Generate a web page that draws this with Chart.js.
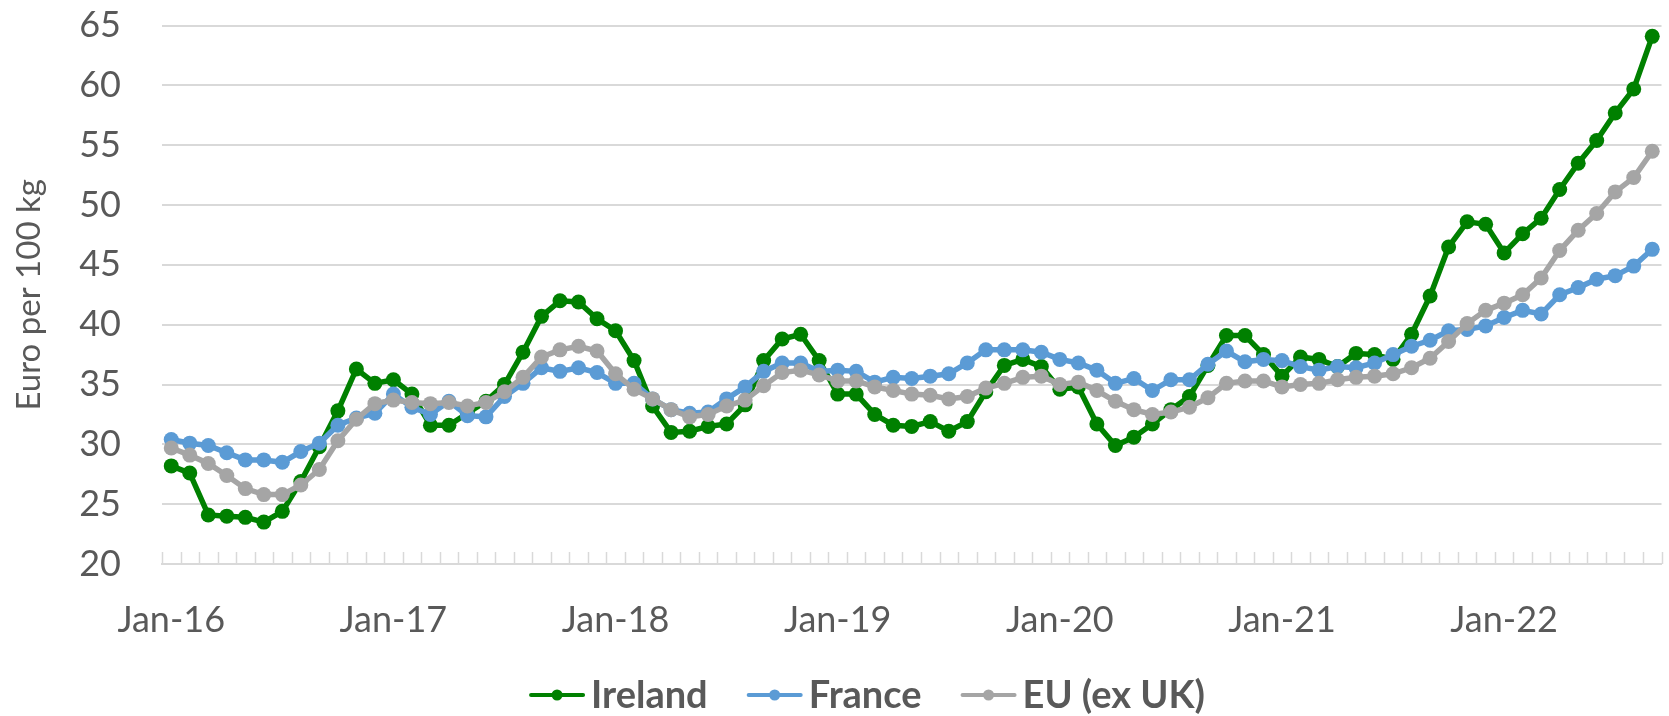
<!DOCTYPE html>
<html>
<head>
<meta charset="utf-8">
<script src="https://cdn.jsdelivr.net/npm/chart.js@4"></script>
<style>
  html, body { margin: 0; padding: 0; background: #fff; }
  #wrap { width: 1669px; height: 716px; }
</style>
</head>
<body>
<div id="wrap"><canvas id="milk-chart" width="1669" height="716"></canvas></div>
<script>
// monthly, Jan-16 .. Sep-22
var monthNames = ['Jan', 'Feb', 'Mar', 'Apr', 'May', 'Jun', 'Jul', 'Aug', 'Sep', 'Oct', 'Nov', 'Dec'];
var months = [];
for (var yr = 16; yr <= 22; yr++) {
    for (var m = 0; m < 12; m++) {
        if (yr === 22 && m > 8) break;
        months.push(monthNames[m] + '-' + yr);
    }
}

var ireland = [28.2, 27.6, 24.1, 24.0, 23.9, 23.5, 24.4, 26.9, 29.8, 32.8,
    36.3, 35.1, 35.4, 34.2, 31.6, 31.6, 32.6, 33.6, 35.0, 37.7,
    40.7, 42.0, 41.9, 40.5, 39.5, 37.0, 33.2, 31.0, 31.1, 31.5,
    31.7, 33.3, 37.0, 38.8, 39.2, 37.0, 34.2, 34.2, 32.5, 31.6,
    31.5, 31.9, 31.1, 31.9, 34.4, 36.6, 37.1, 36.5, 34.6, 34.8,
    31.7, 29.9, 30.6, 31.7, 32.9, 34.0, 36.6, 39.1, 39.1, 37.5,
    35.7, 37.3, 37.1, 36.5, 37.6, 37.5, 37.1, 39.2, 42.4, 46.5,
    48.6, 48.4, 46.0, 47.6, 48.9, 51.3, 53.5, 55.4, 57.7, 59.7, 64.1];

var france = [30.4, 30.1, 29.9, 29.3, 28.7, 28.7, 28.5, 29.4, 30.1, 31.6,
    32.2, 32.6, 34.2, 33.1, 32.5, 33.6, 32.4, 32.3, 34.0, 35.1,
    36.4, 36.1, 36.4, 36.0, 35.1, 35.1, 33.8, 32.9, 32.6, 32.7,
    33.8, 34.8, 36.1, 36.8, 36.8, 36.1, 36.2, 36.1, 35.2, 35.6,
    35.5, 35.7, 35.9, 36.8, 37.9, 37.9, 37.9, 37.7, 37.1, 36.8,
    36.2, 35.1, 35.5, 34.5, 35.4, 35.4, 36.7, 37.8, 36.9, 37.1,
    37.0, 36.5, 36.2, 36.5, 36.4, 36.8, 37.5, 38.2, 38.7, 39.5,
    39.6, 39.9, 40.6, 41.2, 40.9, 42.5, 43.1, 43.8, 44.1, 44.9, 46.3];

var euExUk = [29.7, 29.1, 28.4, 27.4, 26.3, 25.8, 25.8, 26.6, 27.9, 30.3,
    32.1, 33.4, 33.7, 33.5, 33.4, 33.5, 33.2, 33.5, 34.4, 35.6,
    37.3, 37.9, 38.2, 37.8, 35.9, 34.6, 33.8, 32.9, 32.3, 32.5,
    33.2, 33.7, 34.9, 36.0, 36.2, 35.8, 35.3, 35.3, 34.8, 34.5,
    34.2, 34.1, 33.8, 34.0, 34.7, 35.1, 35.6, 35.7, 35.0, 35.2,
    34.5, 33.6, 32.9, 32.5, 32.7, 33.1, 33.9, 35.1, 35.3, 35.3,
    34.8, 35.0, 35.1, 35.4, 35.6, 35.7, 35.9, 36.4, 37.2, 38.6,
    40.1, 41.2, 41.8, 42.5, 43.9, 46.2, 47.9, 49.3, 51.1, 52.3, 54.5];

var seriesNames = ['Ireland', 'France', 'EU (ex UK)'];
var seriesColors = ['#008000', '#5b9bd5', '#a5a5a5'];

var textColor = '#595959';
var fontFamily = 'Lato, "Open Sans", sans-serif';

// small tick marks between months, pointing up into the plot
var innerTicks = {
    id: 'innerTicks',
    beforeDatasetsDraw: function(chart) {
        var xs = chart.scales.x;
        var ctx = chart.ctx;
        var step = xs.getPixelForValue(1) - xs.getPixelForValue(0);
        var bottom = chart.chartArea.bottom;
        ctx.save();
        ctx.strokeStyle = '#d9d9d9';
        ctx.lineWidth = 1.5;
        ctx.beginPath();
        for (var i = 0; i <= months.length; i++) {
            var x = Math.round(xs.getPixelForValue(i) - step / 2) + 0.5;
            ctx.moveTo(x, bottom);
            ctx.lineTo(x, bottom - 12);
        }
        ctx.stroke();
        ctx.restore();
    }
};

// legend like the office one: line + dot, then bold name
var lineLegend = {
    id: 'lineLegend',
    afterDraw: function(chart) {
        var ctx = chart.ctx;
        var iconW = 56, gapText = 6, gapItem = 39;
        var y = 695;
        ctx.save();
        ctx.font = 'bold 38px ' + fontFamily;
        ctx.textBaseline = 'middle';
        var widths = seriesNames.map(function(s) { return ctx.measureText(s).width; });
        var total = 0;
        widths.forEach(function(w, i) { total += iconW + gapText + w + (i < widths.length - 1 ? gapItem : 0); });
        var x = 867 - total / 2;
        chart.data.datasets.forEach(function(ds, i) {
            ctx.strokeStyle = ds.borderColor;
            ctx.fillStyle = ds.borderColor;
            ctx.lineWidth = 4;
            ctx.lineCap = 'round';
            ctx.beginPath();
            ctx.moveTo(x + 2, y);
            ctx.lineTo(x + iconW - 2, y);
            ctx.stroke();
            ctx.beginPath();
            ctx.arc(x + iconW / 2, y, 5.5, 0, Math.PI * 2);
            ctx.fill();
            x += iconW + gapText;
            ctx.fillStyle = textColor;
            ctx.fillText(ds.label, x, y + 1);
            x += widths[i] + gapItem;
        });
        ctx.restore();
    }
};

var allSeries = [ireland, france, euExUk];
var datasets = allSeries.map(function(vals, k) {
    return {
        label: seriesNames[k],
        data: vals,
        borderColor: seriesColors[k],
        backgroundColor: seriesColors[k],
        borderWidth: 5.5,
        pointRadius: 7.5,
        pointHoverRadius: 7.5,
        pointBorderWidth: 0,
        tension: 0,
        order: 3 - k
    };
});

var ctx = document.getElementById('milk-chart').getContext('2d');
var myChart = new Chart(ctx, {
    type: 'line',
    data: {
        labels: months,
        datasets: datasets
    },
    plugins: [innerTicks, lineLegend],
    options: {
        responsive: false,
        animation: false,
        layout: { padding: { top: 1, right: 2, left: 0, bottom: 50 } },
        plugins: {
            tooltip: { enabled: false },
            legend: { display: false }
        },
        scales: {
            x: {
                offset: true,
                grid: {
                    display: true,
                    drawOnChartArea: false,
                    drawTicks: true,
                    tickLength: 32,
                    tickColor: 'rgba(0,0,0,0)'
                },
                border: { display: true, color: '#d9d9d9', width: 2 },
                ticks: {
                    autoSkip: false,
                    maxRotation: 0,
                    padding: 3,
                    color: textColor,
                    font: { family: fontFamily, size: 36 },
                    callback: function(v, i) {
                        var lab = months[i];
                        return lab.indexOf('Jan') === 0 ? lab : '';
                    }
                },
                afterFit: function(scale) { scale.height = 102; }
            },
            y: {
                min: 20,
                max: 65,
                ticks: {
                    stepSize: 5,
                    padding: 4,
                    color: textColor,
                    font: { family: fontFamily, size: 36 }
                },
                grid: {
                    color: '#d9d9d9',
                    lineWidth: 2,
                    drawTicks: true,
                    tickLength: 37,
                    tickColor: 'rgba(0,0,0,0)'
                },
                border: { display: false },
                title: {
                    display: true,
                    text: 'Euro per 100 kg',
                    color: textColor,
                    font: { family: fontFamily, size: 33 },
                    padding: { top: 10, bottom: 0 }
                },
                afterFit: function(scale) { scale.width = 162; }
            }
        }
    }
});
</script>
</body>
</html>
